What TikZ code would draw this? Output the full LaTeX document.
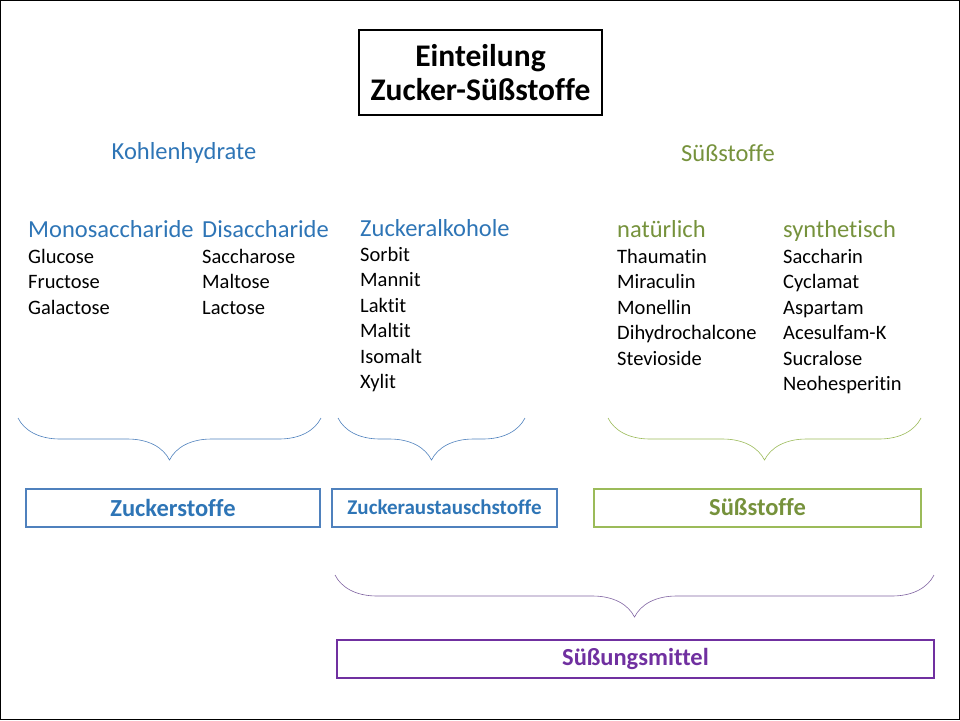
\documentclass[tikz,border=0pt]{standalone}
\usepackage{fontspec}
\setmainfont{Carlito}[RawFeature=-liga]
\usetikzlibrary{positioning, decorations.pathreplacing}
\definecolor{kblue}{RGB}{46,117,182}
\definecolor{bblue}{RGB}{79,129,189}
\definecolor{kgreen}{RGB}{118,146,60}
\definecolor{bgreen}{RGB}{155,187,89}
\definecolor{kpurple}{RGB}{112,48,160}
\definecolor{bpurple}{RGB}{128,100,162}

\begin{document}
\begin{tikzpicture}[x=1pt, y=-1pt,
        head/.style={anchor=base west, inner sep=0pt, font=\fontsize{24.5}{28}\selectfont},
        item/.style={anchor=north west, align=left, inner sep=0pt, font=\fontsize{20.5}{25.5}\selectfont},
        catbox/.style={draw, line width=2pt, minimum height=38pt, font=\bfseries\fontsize{24.5}{28}\selectfont},
        curly/.style={decorate, decoration={brace, amplitude=42pt}, line width=0.6pt}]
        % Frame
        \draw[line width=1pt] (0.5,0.5) rectangle (959.5,719.5);

        % Title
        \node (title) [draw, line width=2pt, minimum width=243pt, minimum height=85pt, align=center,
                font=\bfseries\fontsize{31.5}{34}\selectfont] at (480.5,72.5) {Einteilung\\Zucker-Süßstoffe};

        % Groups
        \node (kohlen) [kblue, font=\fontsize{24.5}{28}\selectfont] at (184,153) {Kohlenhydrate};
        \node (suess) [kgreen, font=\fontsize{24.5}{28}\selectfont] at (728,153) {Süßstoffe};

        % Headings
        \node (mono) [head, kblue] at (28,237) {Monosaccharide};
        \node (di) [head, kblue] at (202,237) {Disaccharide};
        \node (alk) [head, kblue] at (360,236) {Zuckeralkohole};
        \node (nat) [head, kgreen] at (617,237) {natürlich};
        \node (syn) [head, kgreen] at (783,237) {synthetisch};

        % Lists
        \node (monol) [item] at (28,249) {Glucose\\Fructose\\Galactose};
        \node (dil) [item] at (202,249) {Saccharose\\Maltose\\Lactose};
        \node (alkl) [item] at (360,247) {Sorbit\\Mannit\\Laktit\\Maltit\\Isomalt\\Xylit};
        \node (natl) [item] at (617,249) {Thaumatin\\Miraculin\\Monellin\\Dihydrochalcone\\Stevioside};
        \node (synl) [item] at (783,249) {Saccharin\\Cyclamat\\Aspartam\\Acesulfam-K\\Sucralose\\Neohesperitin};

        % Braces
        \draw[curly, bblue] (321,418) -- (18,418);
        \draw[curly, bblue] (525,418) -- (338,418);
        \draw[curly, bgreen] (921,418) -- (608,418);
        \draw[curly, bpurple] (934,575) -- (335,575);

        % Boxes
        \node (zs) [catbox, bblue, minimum width=294pt, text=kblue] at (173,507.5) {Zuckerstoffe};
        \node (zas) [catbox, bblue, minimum width=225pt, text=kblue, font=\bfseries\fontsize{21}{24}\selectfont] at (444.5,507.5) {Zuckeraustauschstoffe};
        \node (ss) [catbox, bgreen, minimum width=327pt, text=kgreen] at (757.5,507.5) {Süßstoffe};
        \node (sm) [catbox, kpurple, minimum width=597pt, text=kpurple] at (635.5,659) {Süßungsmittel};
\end{tikzpicture}
\end{document}
